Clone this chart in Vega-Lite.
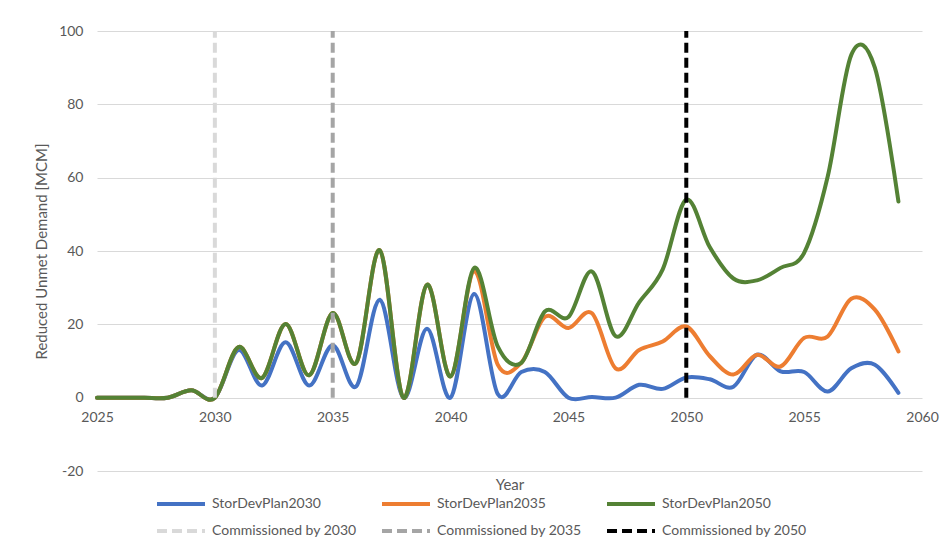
{
  "$schema": "https://vega.github.io/schema/vega-lite/v6.json",
  "width": 825,
  "height": 440,
  "autosize": {"type": "none"},
  "padding": {"left": 97, "top": 31, "right": 23, "bottom": 70},
  "background": "white",
  "config": {
    "view": {"stroke": null},
    "font": "Lato",
    "axis": {
      "labelColor": "#595959",
      "titleColor": "#595959",
      "titleFontWeight": "normal",
      "labelFontSize": 14,
      "titleFontSize": 15,
      "tickSize": 0,
      "ticks": false,
      "domain": false,
      "gridColor": "#d9d9d9",
      "gridWidth": 1
    },
    "legend": {
      "title": null,
      "orient": "none",
      "direction": "horizontal",
      "symbolType": "stroke",
      "symbolSize": 2304,
      "symbolStrokeWidth": 4,
      "labelFontSize": 14,
      "labelColor": "#595959",
      "labelOffset": 5
    }
  },
  "datasets": {
    "plans": [
      {"year": 2025, "series": "StorDevPlan2030", "value": 0},
      {"year": 2026, "series": "StorDevPlan2030", "value": 0},
      {"year": 2027, "series": "StorDevPlan2030", "value": 0},
      {"year": 2028, "series": "StorDevPlan2030", "value": 0},
      {"year": 2029, "series": "StorDevPlan2030", "value": 2},
      {"year": 2030, "series": "StorDevPlan2030", "value": 0},
      {"year": 2031, "series": "StorDevPlan2030", "value": 13},
      {"year": 2032, "series": "StorDevPlan2030", "value": 3.3},
      {"year": 2033, "series": "StorDevPlan2030", "value": 15.1},
      {"year": 2034, "series": "StorDevPlan2030", "value": 3.3},
      {"year": 2035, "series": "StorDevPlan2030", "value": 14.3},
      {"year": 2036, "series": "StorDevPlan2030", "value": 3.1},
      {"year": 2037, "series": "StorDevPlan2030", "value": 26.7},
      {"year": 2038, "series": "StorDevPlan2030", "value": 0},
      {"year": 2039, "series": "StorDevPlan2030", "value": 18.8},
      {"year": 2040, "series": "StorDevPlan2030", "value": 0},
      {"year": 2041, "series": "StorDevPlan2030", "value": 28.3},
      {"year": 2042, "series": "StorDevPlan2030", "value": 1},
      {"year": 2043, "series": "StorDevPlan2030", "value": 7},
      {"year": 2044, "series": "StorDevPlan2030", "value": 7},
      {"year": 2045, "series": "StorDevPlan2030", "value": 0},
      {"year": 2046, "series": "StorDevPlan2030", "value": 0.2},
      {"year": 2047, "series": "StorDevPlan2030", "value": 0},
      {"year": 2048, "series": "StorDevPlan2030", "value": 3.5},
      {"year": 2049, "series": "StorDevPlan2030", "value": 2.4},
      {"year": 2050, "series": "StorDevPlan2030", "value": 5.5},
      {"year": 2051, "series": "StorDevPlan2030", "value": 5},
      {"year": 2052, "series": "StorDevPlan2030", "value": 3},
      {"year": 2053, "series": "StorDevPlan2030", "value": 11.7},
      {"year": 2054, "series": "StorDevPlan2030", "value": 7.2},
      {"year": 2055, "series": "StorDevPlan2030", "value": 7},
      {"year": 2056, "series": "StorDevPlan2030", "value": 1.7},
      {"year": 2057, "series": "StorDevPlan2030", "value": 8},
      {"year": 2058, "series": "StorDevPlan2030", "value": 9},
      {"year": 2059, "series": "StorDevPlan2030", "value": 1.3},

      {"year": 2025, "series": "StorDevPlan2035", "value": 0},
      {"year": 2026, "series": "StorDevPlan2035", "value": 0},
      {"year": 2027, "series": "StorDevPlan2035", "value": 0},
      {"year": 2028, "series": "StorDevPlan2035", "value": 0},
      {"year": 2029, "series": "StorDevPlan2035", "value": 2},
      {"year": 2030, "series": "StorDevPlan2035", "value": 0},
      {"year": 2031, "series": "StorDevPlan2035", "value": 13.8},
      {"year": 2032, "series": "StorDevPlan2035", "value": 5.4},
      {"year": 2033, "series": "StorDevPlan2035", "value": 20.1},
      {"year": 2034, "series": "StorDevPlan2035", "value": 6.1},
      {"year": 2035, "series": "StorDevPlan2035", "value": 23.1},
      {"year": 2036, "series": "StorDevPlan2035", "value": 9.5},
      {"year": 2037, "series": "StorDevPlan2035", "value": 40.2},
      {"year": 2038, "series": "StorDevPlan2035", "value": 0},
      {"year": 2039, "series": "StorDevPlan2035", "value": 30.8},
      {"year": 2040, "series": "StorDevPlan2035", "value": 5.8},
      {"year": 2041, "series": "StorDevPlan2035", "value": 34.5},
      {"year": 2042, "series": "StorDevPlan2035", "value": 9},
      {"year": 2043, "series": "StorDevPlan2035", "value": 9.5},
      {"year": 2044, "series": "StorDevPlan2035", "value": 22},
      {"year": 2045, "series": "StorDevPlan2035", "value": 19},
      {"year": 2046, "series": "StorDevPlan2035", "value": 23},
      {"year": 2047, "series": "StorDevPlan2035", "value": 8},
      {"year": 2048, "series": "StorDevPlan2035", "value": 13},
      {"year": 2049, "series": "StorDevPlan2035", "value": 15.3},
      {"year": 2050, "series": "StorDevPlan2035", "value": 19.4},
      {"year": 2051, "series": "StorDevPlan2035", "value": 11.3},
      {"year": 2052, "series": "StorDevPlan2035", "value": 6.3},
      {"year": 2053, "series": "StorDevPlan2035", "value": 11.7},
      {"year": 2054, "series": "StorDevPlan2035", "value": 8.5},
      {"year": 2055, "series": "StorDevPlan2035", "value": 16.3},
      {"year": 2056, "series": "StorDevPlan2035", "value": 16.7},
      {"year": 2057, "series": "StorDevPlan2035", "value": 27},
      {"year": 2058, "series": "StorDevPlan2035", "value": 24},
      {"year": 2059, "series": "StorDevPlan2035", "value": 12.6},

      {"year": 2025, "series": "StorDevPlan2050", "value": 0},
      {"year": 2026, "series": "StorDevPlan2050", "value": 0},
      {"year": 2027, "series": "StorDevPlan2050", "value": 0},
      {"year": 2028, "series": "StorDevPlan2050", "value": 0},
      {"year": 2029, "series": "StorDevPlan2050", "value": 2},
      {"year": 2030, "series": "StorDevPlan2050", "value": 0},
      {"year": 2031, "series": "StorDevPlan2050", "value": 13.8},
      {"year": 2032, "series": "StorDevPlan2050", "value": 5.4},
      {"year": 2033, "series": "StorDevPlan2050", "value": 20.1},
      {"year": 2034, "series": "StorDevPlan2050", "value": 6.1},
      {"year": 2035, "series": "StorDevPlan2050", "value": 23.1},
      {"year": 2036, "series": "StorDevPlan2050", "value": 9.5},
      {"year": 2037, "series": "StorDevPlan2050", "value": 40.2},
      {"year": 2038, "series": "StorDevPlan2050", "value": 0},
      {"year": 2039, "series": "StorDevPlan2050", "value": 30.8},
      {"year": 2040, "series": "StorDevPlan2050", "value": 5.8},
      {"year": 2041, "series": "StorDevPlan2050", "value": 35.4},
      {"year": 2042, "series": "StorDevPlan2050", "value": 14},
      {"year": 2043, "series": "StorDevPlan2050", "value": 9.5},
      {"year": 2044, "series": "StorDevPlan2050", "value": 23.5},
      {"year": 2045, "series": "StorDevPlan2050", "value": 22},
      {"year": 2046, "series": "StorDevPlan2050", "value": 34.4},
      {"year": 2047, "series": "StorDevPlan2050", "value": 16.8},
      {"year": 2048, "series": "StorDevPlan2050", "value": 26},
      {"year": 2049, "series": "StorDevPlan2050", "value": 35},
      {"year": 2050, "series": "StorDevPlan2050", "value": 54},
      {"year": 2051, "series": "StorDevPlan2050", "value": 41},
      {"year": 2052, "series": "StorDevPlan2050", "value": 32.5},
      {"year": 2053, "series": "StorDevPlan2050", "value": 32},
      {"year": 2054, "series": "StorDevPlan2050", "value": 35.4},
      {"year": 2055, "series": "StorDevPlan2050", "value": 39.5},
      {"year": 2056, "series": "StorDevPlan2050", "value": 60.3},
      {"year": 2057, "series": "StorDevPlan2050", "value": 93.5},
      {"year": 2058, "series": "StorDevPlan2050", "value": 90},
      {"year": 2059, "series": "StorDevPlan2050", "value": 53.5}
    ],
    "commissioned": [
      {"year": 2030, "series": "Commissioned by 2030"},
      {"year": 2035, "series": "Commissioned by 2035"},
      {"year": 2050, "series": "Commissioned by 2050"}
    ]
  },
  "resolve": {"scale": {"color": "independent", "strokeDash": "independent"}},
  "layer": [
    {
      "data": {"name": "plans"},
      "mark": {"type": "line", "interpolate": "cardinal", "strokeWidth": 4, "strokeCap": "round", "clip": false},
      "encoding": {
        "x": {
          "field": "year",
          "type": "quantitative",
          "scale": {"domain": [2025, 2060], "nice": false, "zero": false},
          "axis": {
            "values": [2025, 2030, 2035, 2040, 2045, 2050, 2055, 2060],
            "format": "d",
            "offset": -73.3,
            "grid": false,
            "labelPadding": 13,
            "labelFlush": false,
            "title": "Year",
            "titlePadding": 53
          }
        },
        "y": {
          "field": "value",
          "type": "quantitative",
          "scale": {"domain": [-20, 100], "nice": false},
          "axis": {
            "values": [-20, 0, 20, 40, 60, 80, 100],
            "labelExpr": "replace(datum.label, '\u2212', '-')",
            "grid": true,
            "labelPadding": 14,
            "title": "Reduced Unmet Demand [MCM]",
            "titlePadding": 9
          }
        },
        "color": {
          "field": "series",
          "type": "nominal",
          "scale": {
            "domain": ["StorDevPlan2030", "StorDevPlan2035", "StorDevPlan2050"],
            "range": ["#4472c4", "#ed7d31", "#548235"]
          },
          "legend": {"legendX": 58, "legendY": 447, "columnPadding": 53}
        }
      }
    },
    {
      "data": {"name": "commissioned"},
      "mark": {"type": "rule", "strokeWidth": 4},
      "encoding": {
        "x": {"field": "year", "type": "quantitative"},
        "y": {"datum": 0},
        "y2": {"datum": 100},
        "color": {
          "field": "series",
          "type": "nominal",
          "scale": {
            "domain": ["Commissioned by 2030", "Commissioned by 2035", "Commissioned by 2050"],
            "range": ["#d9d9d9", "#a5a5a5", "#000000"]
          },
          "legend": {"legendX": 58, "legendY": 474, "columnPadding": 17}
        },
        "strokeDash": {
          "field": "series",
          "type": "nominal",
          "scale": {
            "domain": ["Commissioned by 2030", "Commissioned by 2035", "Commissioned by 2050"],
            "range": [[10, 5], [10, 5], [10, 5]]
          }
        }
      }
    }
  ]
}
